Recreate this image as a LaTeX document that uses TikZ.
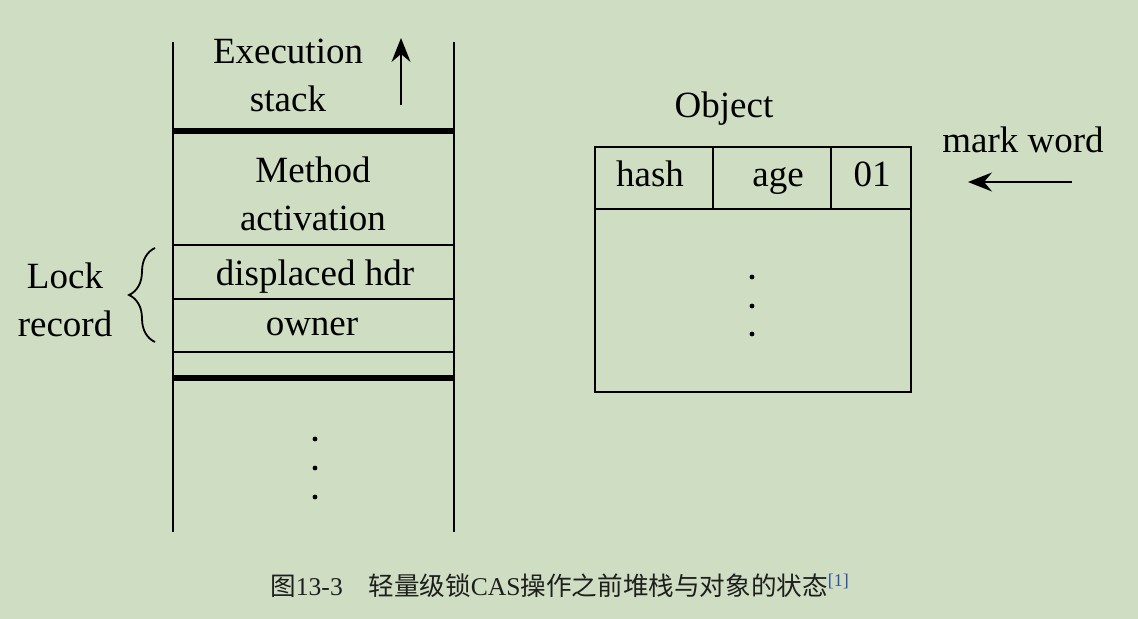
\documentclass[tikz,border=0pt]{standalone}
\usepackage{fontspec}
\setmainfont{Liberation Serif}
\newfontfamily\cjk{Noto Sans CJK SC}
\usetikzlibrary{arrows.meta,decorations.pathreplacing}
\definecolor{bggreen}{RGB}{207,222,195}
\definecolor{refblue}{RGB}{40,80,165}
\definecolor{capgray}{RGB}{30,30,30}
\tikzset{
  lbl/.style={font=\fontsize{18.5}{24}\selectfont, align=center, inner sep=0pt},
  thickrule/.style={line width=3pt},
  tip/.style={-{Stealth[length=12pt,width=9.5pt,inset=4pt]}},
}
\begin{document}
\begin{tikzpicture}[x=0.5pt,y=-0.5pt,line width=0.9pt]
\fill[bggreen] (0,0) rectangle (1138,619);
\useasboundingbox (0,0) rectangle (1138,619);
% execution stack
\draw (173,42) -- (173,532);
\draw (454,42) -- (454,532);
\draw[thickrule] (173,131) -- (454,131);
\draw[thickrule] (173,378) -- (454,378);
\foreach \y in {245,299,352}
  \draw (173,\y) -- (454,\y);
\node[lbl] (exec) at (288,75) {Execution\\stack};
\coordinate (up0) at (401,105);
\coordinate (up1) at (401,38);
\draw[tip] (up0) -- (up1);
\node[lbl] (method) at (313,194) {Method\\activation};
\node[lbl,anchor=base] (hdr) at (315,286) {displaced hdr};
\node[lbl,anchor=base] (owner) at (312,336) {owner};
\foreach \y in {439,468,497}
  \fill (315,\y) circle (1.2pt);
% lock record
\node[lbl] (lock) at (65,300) {Lock\\record};
\draw[decorate,decoration={brace,amplitude=13pt}] (155,342) -- (155,248);
% object
\node[lbl,anchor=base] (object) at (724,118) {Object};
\draw (595,147) rectangle (911,392);
\draw (595,209) -- (911,209);
\draw (713,147) -- (713,209);
\draw (831,147) -- (831,209);
\node[lbl,anchor=base] (hash) at (650,187) {hash};
\node[lbl,anchor=base] (age) at (778,187) {age};
\node[lbl,anchor=base] (bits) at (872,187) {01};
\foreach \y in {277,306,334}
  \fill (752,\y) circle (1.2pt);
\node[lbl,anchor=base] (mark) at (1023,153) {mark word};
\coordinate (mw0) at (1072,182);
\coordinate (mw1) at (968,182);
\draw[tip] (mw0) -- (mw1);
% caption
\node[anchor=base,inner sep=0pt,text=capgray,font=\fontsize{12.8}{15}\selectfont] (cap) at (560,595)
  {{\cjk 图}13-3\quad{\cjk 轻量级锁}CAS{\cjk 操作之前堆栈与对象的状态}\textsuperscript{\color{refblue}[1]}};
\end{tikzpicture}
\end{document}
